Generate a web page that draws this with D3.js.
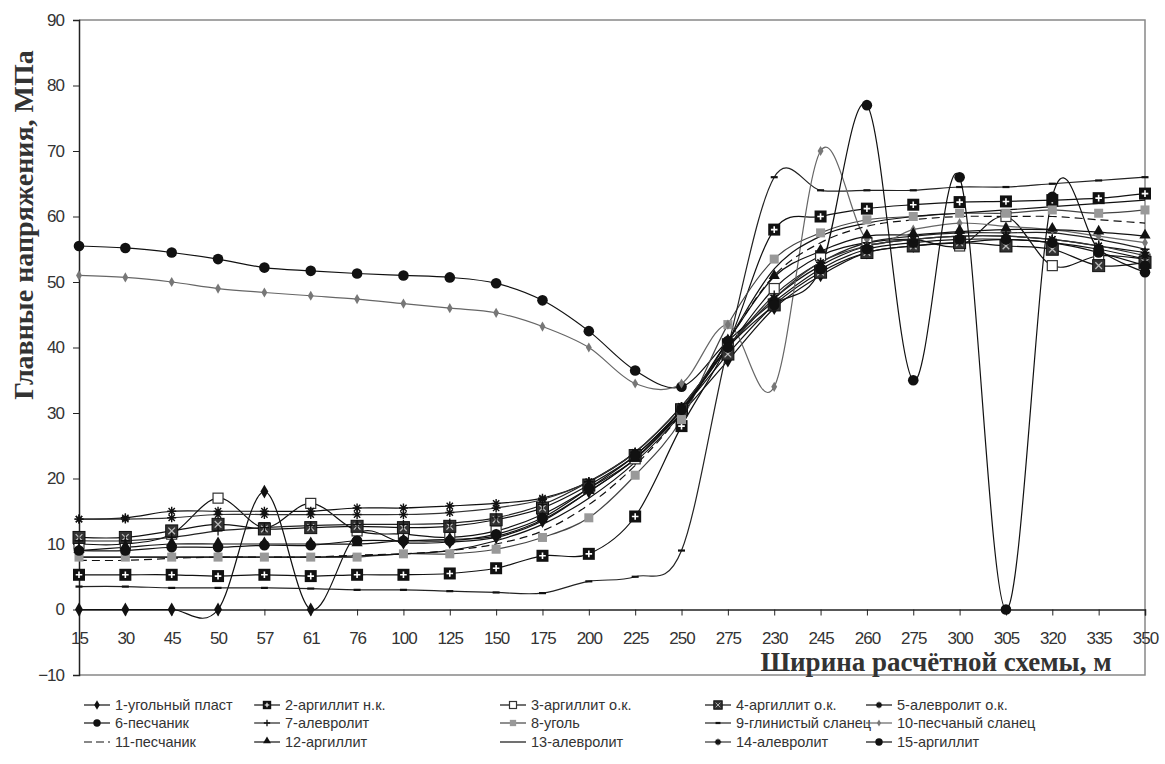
<!DOCTYPE html>
<meta charset="utf-8">
<script src="https://d3js.org/d3.v7.min.js"></script>
<style>
  body { margin: 0; background: #fff; }
  text { fill: #333; }
</style>
<body>
<div id="chart"></div>
<script>

// categories along the bottom (note the repeated 275, kept as in the source)
var categories = ["15","30","45","50","57","61","76","100","125","150","175","200","225","250","275","230","245","260","275","300","305","320","335","350"];
var yTicks = [-10, 0, 10, 20, 30, 40, 50, 60, 70, 80, 90];

// series values, MPa
var s1  = [0,0,0,0,18,0,11.5,10.2,10.3,11,13.5,18,23,30,38,46,51,54.5,55.5,56,56.5,56,55,53.5];
var s2  = [5.3,5.3,5.3,5.1,5.3,5.1,5.3,5.3,5.5,6.3,8.2,8.5,14.2,28,40.5,58,60,61.2,61.8,62.2,62.3,62.5,62.8,63.5];
var s3  = [10,10,11.5,17,12.5,16.2,12,11.5,11,12,14.5,18.5,23,30.5,40,49,54,56,56.5,55.5,60,52.5,54,53.5];
var s4  = [11,11,12,13,12.3,12.5,12.7,12.5,12.7,13.7,15.5,19,23.5,30.5,39,46.5,51.5,54.5,55.5,56,55.5,55,52.5,53];
var s5  = [13.8,14,15,15,15,15,15.5,15.5,15.8,16.2,17,19.5,24,31,40,47.5,52.5,55.5,56.5,57,57,56.5,55.5,54.5];
var s6  = [55.5,55.2,54.5,53.5,52.2,51.7,51.3,51,50.7,49.8,47.2,42.5,36.5,34,41,47,52,55,56,56.5,56.5,56,54.5,52.5];
var s7  = [10.5,10.5,11,12,12.5,12.8,13,13,13.2,14,16,19.5,24,31,40,48,53,56,57,57.5,57.5,57.5,56.5,55];
var s8  = [8,8,8,8,8,8,8,8.5,8.5,9.2,11,14,20.5,29,43.5,53.5,57.5,59.5,60,60.5,60.5,61,60.5,61];
var s9  = [3.5,3.5,3.3,3.3,3.3,3.2,3,3,2.8,2.6,2.5,4.3,5,9,40,66,64,64,64,64.5,64.5,65,65.5,66];
var s10 = [51,50.7,50,49,48.4,47.9,47.4,46.7,46,45.3,43.2,40,34.5,34.5,43.5,34,70,56.5,58,59,58.5,58,57,56];
var s11 = [7.5,7.5,7.8,8,8,8,8.3,8.5,9,10,12,16,22,30,41,51,56,58.5,59.5,60,60,60,59.5,59];
var s12 = [9,9.5,10,10,10,10,10,10.5,10.7,11.2,13.7,18,23,30.5,41,50.8,54.7,57,57.2,57.7,58,58,57.6,57];
var s13 = [8,8,8,8,8,8,8.2,8.5,9,10.5,13,17,22.5,30,41,52,57,59,60,60.5,61,61.5,62,62.5];
var s14 = [13.8,13.8,14,14.5,14.5,14.5,14.5,14.5,14.8,15.5,16.8,19.5,24,31,40,47.5,53,55.5,56.5,57,57,56.5,55.5,54];
var s15 = [9,9,9.5,9.5,9.8,9.8,10.5,10.5,10.5,11.5,14,18.5,23.5,30.5,40,46.5,52,77,35,66,0,63,55,51.5];

var names = ["1-угольный пласт","2-аргиллит н.к.","3-аргиллит о.к.","4-аргиллит о.к.","5-алевролит о.к.",
             "6-песчаник","7-алевролит","8-уголь","9-глинистый сланец","10-песчаный сланец",
             "11-песчаник","12-аргиллит","13-алевролит","14-алевролит","15-аргиллит"];

// style table built from the arrays above
var series = [
  {name: names[0],  values: s1,  color: "#111", marker: "diamond"},
  {name: names[1],  values: s2,  color: "#111", marker: "plusSquare"},
  {name: names[2],  values: s3,  color: "#111", marker: "openSquare"},
  {name: names[3],  values: s4,  color: "#111", marker: "xSquare"},
  {name: names[4],  values: s5,  color: "#111", marker: "star"},
  {name: names[5],  values: s6,  color: "#111", marker: "circle"},
  {name: names[6],  values: s7,  color: "#222", marker: "plus"},
  {name: names[7],  values: s8,  color: "#444", marker: "graySquare"},
  {name: names[8],  values: s9,  color: "#222", marker: "dash"},
  {name: names[9],  values: s10, color: "#666", marker: "smallDiamond"},
  {name: names[10], values: s11, color: "#111", marker: "none", dash: "8,5"},
  {name: names[11], values: s12, color: "#111", marker: "triangle"},
  {name: names[12], values: s13, color: "#111", marker: "none"},
  {name: names[13], values: s14, color: "#333", marker: "star"},
  {name: names[14], values: s15, color: "#111", marker: "circle"}
];

var W = 1165, H = 764;
var pLeft = 79, pRight = 1145, pTop = 20, pBottom = 675;
var narrow = "'Liberation Sans Narrow','Arial Narrow','Liberation Sans',sans-serif";
var serif = "'Liberation Serif','Times New Roman','DejaVu Serif',serif";

var svg = d3.select("#chart").append("svg")
    .attr("width", W).attr("height", H);

var x = d3.scalePoint().domain(d3.range(categories.length)).range([pLeft, pRight]);
var y = d3.scaleLinear().domain([-10, 90]).range([pBottom, pTop]);

// plot frame (top, right, bottom in gray)
svg.append("path")
    .attr("d", "M" + pLeft + "," + pTop + "H" + pRight + "V" + pBottom + "H" + pLeft)
    .attr("fill", "none").attr("stroke", "#888").attr("stroke-width", 1.5);

// y axis
var yAxis = svg.append("g")
    .attr("transform", "translate(" + pLeft + ",0)")
    .call(d3.axisLeft(y).tickValues(yTicks).tickSize(6).tickPadding(9));
yAxis.select(".domain").attr("stroke", "#222").attr("stroke-width", 1.5);
yAxis.selectAll(".tick line").attr("stroke", "#222");
yAxis.selectAll("text").style("font-family", narrow).style("font-size", "17px")
    .style("letter-spacing", "-1px").attr("fill", "#333");

// x axis sits on zero
var xAxis = svg.append("g")
    .attr("transform", "translate(0," + y(0) + ")")
    .call(d3.axisBottom(x).tickFormat(function(i) { return categories[i]; }).tickSize(6).tickPadding(16));
xAxis.select(".domain").attr("stroke", "#222").attr("stroke-width", 1.5);
xAxis.selectAll(".tick line").attr("stroke", "#222");
xAxis.selectAll("text").style("font-family", narrow).style("font-size", "17px")
    .style("letter-spacing", "-1px").attr("fill", "#333");

// smoothed lines
var line = d3.line()
    .x(function(d, i) { return x(i); })
    .y(function(d) { return y(d); })
    .curve(d3.curveCardinal.tension(0));

svg.append("g").selectAll("path")
  .data(series)
  .join("path")
    .attr("d", function(d) { return line(d.values); })
    .attr("fill", "none")
    .attr("stroke", function(d) { return d.color; })
    .attr("stroke-width", 1.2)
    .attr("stroke-dasharray", function(d) { return d.dash || null; });

// markers
function drawMarker(g, type, cx, cy, k) {
  var s = k || 1;
  if (type === "diamond") {
    g.append("path").attr("d", d3.symbol(d3.symbolDiamond, 55 * s * s)())
      .attr("transform", "translate(" + cx + "," + cy + ")").attr("fill", "#111");
  } else if (type === "smallDiamond") {
    g.append("path").attr("d", d3.symbol(d3.symbolDiamond, 30 * s * s)())
      .attr("transform", "translate(" + cx + "," + cy + ")").attr("fill", "#777");
  } else if (type === "plusSquare") {
    var a = 6 * s;
    g.append("rect").attr("x", cx - a).attr("y", cy - a).attr("width", 2 * a).attr("height", 2 * a)
      .attr("fill", "#111");
    g.append("path").attr("d", "M" + (cx - a * 0.55) + "," + cy + "h" + (a * 1.1) + "M" + cx + "," + (cy - a * 0.55) + "v" + (a * 1.1))
      .attr("stroke", "#fff").attr("stroke-width", 1.6 * s);
  } else if (type === "xSquare") {
    var b = 6 * s;
    g.append("rect").attr("x", cx - b).attr("y", cy - b).attr("width", 2 * b).attr("height", 2 * b)
      .attr("fill", "#333").attr("stroke", "#111");
    g.append("path").attr("d", "M" + (cx - b * 0.55) + "," + (cy - b * 0.55) + "l" + (b * 1.1) + "," + (b * 1.1) +
        "M" + (cx + b * 0.55) + "," + (cy - b * 0.55) + "l" + (-b * 1.1) + "," + (b * 1.1))
      .attr("stroke", "#bbb").attr("stroke-width", 1.3 * s);
  } else if (type === "openSquare") {
    var c = 5 * s;
    g.append("rect").attr("x", cx - c).attr("y", cy - c).attr("width", 2 * c).attr("height", 2 * c)
      .attr("fill", "#fff").attr("stroke", "#333").attr("stroke-width", 1.2);
  } else if (type === "graySquare") {
    var e = 4.5 * s;
    g.append("rect").attr("x", cx - e).attr("y", cy - e).attr("width", 2 * e).attr("height", 2 * e)
      .attr("fill", "#999");
  } else if (type === "circle") {
    g.append("circle").attr("cx", cx).attr("cy", cy).attr("r", 5.3 * s).attr("fill", "#111");
  } else if (type === "triangle") {
    g.append("path").attr("d", d3.symbol(d3.symbolTriangle, 55 * s * s)())
      .attr("transform", "translate(" + cx + "," + (cy - 1) + ")").attr("fill", "#111");
  } else if (type === "star") {
    var r = 4.5 * s;
    g.append("path").attr("d", "M" + (cx - r) + "," + cy + "h" + 2 * r + "M" + cx + "," + (cy - r) + "v" + 2 * r +
        "M" + (cx - r * 0.7) + "," + (cy - r * 0.7) + "l" + r * 1.4 + "," + r * 1.4 +
        "M" + (cx + r * 0.7) + "," + (cy - r * 0.7) + "l" + (-r * 1.4) + "," + r * 1.4)
      .attr("stroke", "#111").attr("stroke-width", 1.4);
  } else if (type === "plus") {
    var p = 4.5 * s;
    g.append("path").attr("d", "M" + (cx - p) + "," + cy + "h" + 2 * p + "M" + cx + "," + (cy - p) + "v" + 2 * p)
      .attr("stroke", "#111").attr("stroke-width", 1.3);
  } else if (type === "dash") {
    g.append("path").attr("d", "M" + (cx - 3.5 * s) + "," + cy + "h" + 7 * s)
      .attr("stroke", "#111").attr("stroke-width", 2.2);
  }
}

var markerLayer = svg.append("g");
series.forEach(function(sr) {
  if (sr.marker === "none") return;
  sr.values.forEach(function(v, i) {
    drawMarker(markerLayer, sr.marker, x(i), y(v));
  });
});

// axis titles
svg.append("text")
    .attr("transform", "translate(33," + 225 + ") rotate(-90)")
    .attr("text-anchor", "middle")
    .style("font-family", serif).style("font-weight", "bold").style("font-size", "28px")
    .attr("fill", "#111")
    .text("Главные напряжения, МПа");

svg.append("text")
    .attr("x", 936).attr("y", 671)
    .attr("text-anchor", "middle")
    .style("font-family", serif).style("font-weight", "bold").style("font-size", "27px")
    .attr("fill", "#111")
    .text("Ширина расчётной схемы, м");

// legend, 5 columns x 3 rows
var colX = [84, 254, 500, 705, 866];
var rowY = [705, 723, 742];
var legend = svg.append("g");
series.forEach(function(sr, k) {
  var lx = colX[k % 5], ly = rowY[Math.floor(k / 5)];
  legend.append("line")
      .attr("x1", lx).attr("x2", lx + 26).attr("y1", ly).attr("y2", ly)
      .attr("stroke", sr.color).attr("stroke-width", 1.2)
      .attr("stroke-dasharray", sr.dash ? "8,4" : null);
  if (sr.marker !== "none") drawMarker(legend, sr.marker, lx + 13, ly, 0.7);
  legend.append("text")
      .attr("x", lx + 31).attr("y", ly).attr("dy", "0.35em")
      .style("font-family", narrow).style("font-size", "14.5px")
      .attr("fill", "#333")
      .text(sr.name);
});

</script>
</body>
